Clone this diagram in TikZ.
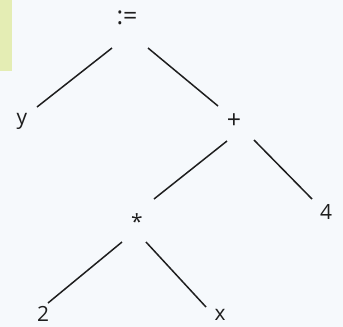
\documentclass[tikz,border=0pt]{standalone}
\usepackage{fontspec}
\setmainfont{Open Sans}
\definecolor{paper}{HTML}{F6F9FC}
\definecolor{tab}{HTML}{E4EDB4}
\definecolor{ink}{HTML}{1E1E1E}
\begin{document}
\begin{tikzpicture}[x=1bp,y=-1bp,
  lbl/.style={inner sep=0pt,text=ink,font=\fontsize{21}{21}\selectfont},
  big/.style={lbl,font=\fontsize{25}{25}\selectfont},
  edge/.style={draw=ink,line width=1.5bp}]
\fill[paper] (0,0) rectangle (343,327);
\useasboundingbox (0,0) rectangle (343,327);
\fill[tab] (0,0) rectangle (12,71);
\node[big] (asg) at (127,18) {:=};
\node[lbl] (y) at (22,121) {y};
\node[big] (plus) at (234,121) {+};
\node[lbl] (mul) at (137,222) {*};
\node[lbl] (four) at (326,212) {4};
\node[lbl] (two) at (43,314) {2};
\node[lbl] (x) at (220,315) {x};
\coordinate (a1) at (112,48); \coordinate (a2) at (37,107);
\coordinate (b1) at (148,48); \coordinate (b2) at (218,106);
\coordinate (c1) at (227,141); \coordinate (c2) at (154,199);
\coordinate (d1) at (254,140); \coordinate (d2) at (312,199);
\coordinate (e1) at (122,242); \coordinate (e2) at (48,303);
\coordinate (f1) at (146,242); \coordinate (f2) at (206,307);
\draw[edge] (a1) -- (a2);
\draw[edge] (b1) -- (b2);
\draw[edge] (c1) -- (c2);
\draw[edge] (d1) -- (d2);
\draw[edge] (e1) -- (e2);
\draw[edge] (f1) -- (f2);
\end{tikzpicture}
\end{document}
